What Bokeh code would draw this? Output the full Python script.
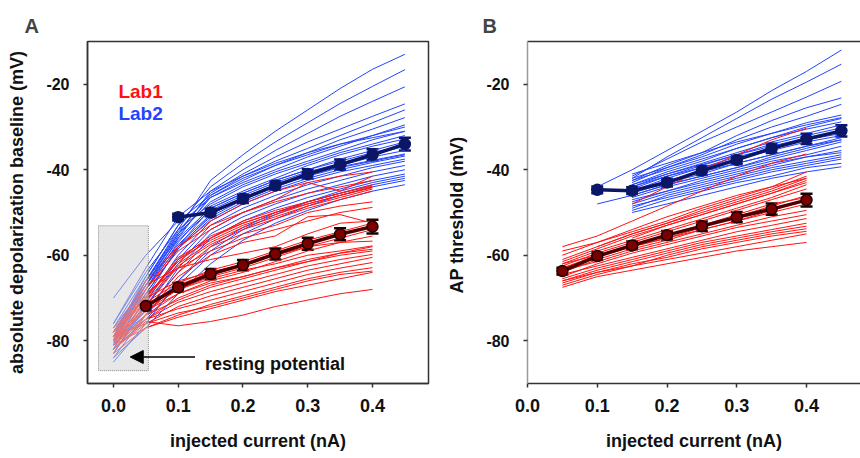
from bokeh.plotting import figure
from bokeh.layouts import row
from bokeh.models import (Range1d, FixedTicker, PrintfTickFormatter, LinearAxis, Whisker,
                          ColumnDataSource, Arrow, NormalHead, TeeHead)
from bokeh.core.properties import value
from bokeh.embed import file_html
from bokeh.resources import INLINE

# ---------------- data ----------------
currents_A = [0.0, 0.05, 0.1, 0.15, 0.2, 0.25, 0.3, 0.35, 0.4, 0.45]
currents_B = [0.05, 0.1, 0.15, 0.2, 0.25, 0.3, 0.35, 0.4, 0.45]

# Panel A, Lab1 single cells (0 .. 0.4 nA)
lab1_A_cells = [
    [-79, -70, -61, -56.5, -53, -50.5, -48, -46, -44],
    [-80, -71, -62, -57, -53.5, -51, -48.5, -46.5, -44.5],
    [-78, -70, -60.5, -56, -52.5, -50, -47.5, -45.5, -43.5],
    [-81, -72, -62.5, -57.5, -54, -51.5, -49, -47, -45],
    [-79.5, -69.5, -61.5, -56, -52, -49.5, -47.5, -45.5, -43.8],
    [-80.5, -70.5, -61, -55.5, -52.5, -50, -48, -46, -44.2],
    [-78, -66, -58, -52, -48, -45, -43, -41.5, -40.5],
    [-80, -68, -59, -54, -50, -47, -43, -45, -41.5],
    [-80, -73, -64, -58, -55, -53, -50, -48.5, -47.5],
    [-82, -74, -65, -60, -57, -55.5, -51, -50.5, -52.5],
    [-79, -72, -67, -64, -62, -59.5, -57, -55, -53],
    [-80, -73, -68, -65, -63, -60.5, -58, -56, -54],
    [-78, -71, -66.5, -63.5, -61.5, -59, -56.5, -54.5, -52.5],
    [-81, -74, -69, -66, -64, -61.5, -59, -57, -55.5],
    [-77, -70, -66, -64, -62.5, -60, -58, -57, -56.7],
    [-82, -75, -70, -67, -65, -63, -61, -59.5, -58],
    [-80, -72, -68, -65.5, -63.5, -62, -60, -59, -57.8],
    [-79, -67, -63, -61, -59.5, -58, -55, -52.5, -52],
    [-81, -75, -71, -68.5, -66.5, -64.5, -62.5, -61, -59.8],
    [-82, -76, -72, -69.5, -67.5, -65.5, -63.5, -62, -60.5],
    [-80, -75, -72.5, -70.5, -68.5, -66.5, -64.5, -63, -61.7],
    [-83, -77, -74, -71.5, -69.5, -67.5, -65.5, -64, -62.9],
    [-79, -76, -73.5, -72, -70, -68, -66, -64.5, -63.7],
    [-81, -77, -74.5, -72.5, -70.5, -68.5, -67, -65.5, -64],
    [-82, -75.5, -76.5, -75.5, -74, -72, -70.5, -69, -68],
    [-78, -68, -58, -53, -50, -47.5, -45.5, -44, -42.5],
    [-80, -69, -63, -59, -56, -54, -52, -50, -48.8],
    [-79, -73, -69, -66.5, -65, -63, -61.5, -59.5, -58.6],
    [-81, -74, -70.5, -67.5, -65.5, -63.5, -61.5, -60, -59],
]

# Panel A, Lab2 single cells (0 .. 0.45 nA)
lab2_A_cells = [
    [-80, -66, -54, -42.5, -36.5, -31, -26, -21, -16.5, -13],
    [-79, -65, -53, -44, -38.5, -33.5, -29, -24.5, -20.5, -16.6],
    [-81, -67, -55, -45, -40, -35.5, -31.5, -27.5, -24, -20.6],
    [-78, -66, -54.5, -45.5, -41, -37, -33.5, -30.5, -27.5, -24.6],
    [-82, -68, -56, -46, -41.5, -38, -35, -32, -29, -26],
    [-80, -67, -55.5, -46.5, -42.5, -39, -36, -33, -30.5, -27.8],
    [-77, -65, -53, -46.5, -43, -40, -37, -34.5, -32, -29.5],
    [-79, -66, -55, -47.5, -43.5, -40.5, -38, -35.5, -33, -31],
    [-76, -64, -54, -48, -44, -41, -38.5, -36, -34, -32],
    [-80, -68, -57, -48.5, -45, -42, -39, -36.5, -34.5, -32.8],
    [-82, -70, -58, -49, -45.5, -42.5, -40, -37.5, -35.5, -33.5],
    [-78, -67, -56.5, -49.5, -46, -43, -40.5, -38.5, -36.5, -34.5],
    [-81, -69, -58.5, -50.5, -46.5, -43.5, -41, -39, -37, -35.5],
    [-79, -68, -58, -51, -47, -44, -41.5, -39.5, -38, -36.5],
    [-80, -69, -58.5, -51.5, -47.5, -44.5, -42, -40, -38.3, -36.8],
    [-77, -67, -57.5, -50.5, -46.5, -43.7, -41.3, -39.3, -37.8, -36.3],
    [-83, -72, -61, -53, -49, -46, -43.5, -41.5, -39.5, -38],
    [-80, -72, -62, -54, -50, -47, -44.5, -42.5, -40.5, -39],
    [-84, -74, -63, -55, -51, -48, -45.5, -43.5, -41.5, -40],
    [-81, -73, -64, -56, -52, -49, -46.5, -44.5, -42.5, -41],
    [-85, -76, -66, -58, -53.5, -50, -47.5, -45.5, -43.5, -42],
    [-82, -75, -67, -60, -55, -51.5, -48.5, -46, -44, -42.5],
    [-84, -77, -69, -62, -56.5, -52.5, -49.5, -47, -45, -43.5],
    [-80, -74, -66, -59, -54, -50.5, -47.5, -45, -43, -41.5],
    [-70, -60, -52, -46, -42, -39, -36.5, -34, -32, -30],
    [-76, -63, -51, -45, -41.5, -38.5, -36, -34, -32.5, -31],
    [-78, -66, -56, -49, -45.5, -42.5, -40, -38, -36, -34.2],
    [-83, -71, -60, -52, -48, -45, -42.5, -40.5, -39, -37.5],
]

# Panel A means +- SEM
lab1_A_x = [0.05, 0.1, 0.15, 0.2, 0.25, 0.3, 0.35, 0.4]
lab1_A_mean = [-71.9, -67.5, -64.4, -62.3, -59.7, -57.3, -55.1, -53.3]
lab1_A_sem = [1.0, 1.0, 1.2, 1.2, 1.3, 1.4, 1.4, 1.6]
lab2_A_x = [0.1, 0.15, 0.2, 0.25, 0.3, 0.35, 0.4, 0.45]
lab2_A_mean = [-51.1, -50.0, -46.8, -43.7, -41.0, -38.8, -36.5, -34.0]
lab2_A_sem = [0.8, 0.9, 1.0, 1.0, 1.1, 1.2, 1.3, 1.5]

# Panel B, Lab1 single cells (0.05 .. 0.4 nA)
lab1_B_cells = [
    [None, None, -48, -44, -40, -36.5, -33, -30.3],
    [-58, -55.5, -52, -48.5, -45, -41.5, -38.5, -36.3],
    [-60, -57, -54.5, -52, -49, -46.5, -44, -40.5],
    [-61, -58, -55, -52.5, -49.5, -47, -44.5, -41.5],
    [-61.5, -58.5, -55.5, -53, -50.5, -48, -45.5, -42.5],
    [-62, -59, -56.5, -54, -51.5, -49, -46.5, -43.5],
    [-62.5, -59.5, -57, -54.5, -52, -49.5, -47, -44.5],
    [None, -58, -55, -52.5, -50, -47.5, -45, -42],
    [None, None, -56, -53, -50.5, -48, -45.5, -43],
    [-63, -60.5, -58, -56, -53.5, -51, -48.5, -46],
    [-64, -61, -58.5, -56.5, -54, -52, -49.5, -47.2],
    [-63.5, -61.5, -59, -57, -55, -53, -51, -49.5],
    [-65, -62, -59.5, -57.5, -55.5, -53.5, -52, -50.5],
    [-64.5, -62.5, -60.5, -58.5, -56.5, -54.5, -53, -51.4],
    [-65.5, -63, -61, -59, -57, -55.5, -54, -52.5],
    [-66, -63.5, -61.5, -59.5, -57.5, -56, -54.5, -53.2],
    [-66.5, -64, -62, -60.5, -58.5, -57, -55.5, -54.4],
    [-67, -64.5, -62.5, -61, -59.5, -58, -56.5, -55],
    [-67.5, -65, -63.5, -62, -60.5, -59, -58, -57],
    [-62, -60, -58, -56, -54, -52, -50, -48],
    [-59, -57, -54, -51, -48.5, -46, -44, -42],
    [-63, -60, -57.5, -55.5, -53, -50.5, -48, -46.5],
    [-66, -64, -62.5, -60, -58, -56.5, -55, -53.8],
]

# Panel B, Lab2 single cells (0.1 .. 0.45 nA)
lab2_B_cells = [
    [-44, -40, -35.5, -31, -26.5, -21.5, -17, -12],
    [None, -42, -37, -32.5, -28, -23.5, -19.5, -15.3],
    [None, -41.5, -37.5, -33.5, -30, -26.5, -23, -19.3],
    [None, -42.5, -39, -36, -32, -28.5, -25.5, -23.2],
    [None, -43, -39.5, -36.5, -33, -30, -27.5, -24.7],
    [None, -42, -39.5, -37, -34, -31.5, -29, -27.2],
    [None, -43.5, -40.5, -38, -35, -32.5, -30, -28],
    [None, -42.5, -40, -37.5, -35, -32.5, -30.5, -28.8],
    [None, -44, -41, -38.5, -36, -33.5, -31.5, -29.5],
    [None, -44.5, -41.5, -39, -36.5, -34, -32, -30.2],
    [None, -43.5, -41, -38.8, -36.5, -34.5, -32.5, -31],
    [None, -45, -42, -39.5, -37, -35, -33, -31.5],
    [None, -45.5, -43, -41, -38.5, -36.5, -34.5, -32.5],
    [None, -46, -43.5, -41.5, -39.5, -37.5, -35.5, -33.5],
    [None, -46.5, -44, -42, -40, -38, -36.5, -34.5],
    [None, -47, -45, -43, -41, -39, -37, -35.5],
    [None, -48, -45.5, -43.5, -41.5, -39.5, -38, -36.5],
    [None, -48.5, -46.5, -44.5, -42.5, -40.5, -39, -37.5],
    [None, -49.5, -47, -45, -43, -41.5, -39.5, -38.5],
    [None, -50, -48, -46, -44, -42, -40.5, -39.3],
    [-48, -46, -43.5, -41.5, -39.5, -37, -35, -33],
    [None, -44, -41.5, -39.5, -37.5, -35.5, -33.5, -32],
    [None, -45, -42.5, -40.5, -38.5, -36.5, -34.5, -33],
    [None, -47.5, -45, -42.5, -40.5, -38.5, -37, -36],
    [None, -49, -46, -44, -42, -40, -38.5, -37],
    [None, -41, -38.5, -36, -33.5, -31.5, -29.5, -27.8],
]

# Panel B means +- SEM
lab1_B_x = [0.05, 0.1, 0.15, 0.2, 0.25, 0.3, 0.35, 0.4]
lab1_B_mean = [-63.7, -60.2, -57.7, -55.3, -53.2, -51.1, -49.2, -47.1]
lab1_B_sem = [0.8, 0.9, 0.9, 1.0, 1.1, 1.2, 1.3, 1.5]
lab2_B_x = [0.1, 0.15, 0.2, 0.25, 0.3, 0.35, 0.4, 0.45]
lab2_B_mean = [-44.7, -44.9, -43.0, -40.2, -37.7, -35.0, -32.8, -30.9]
lab2_B_sem = [0.8, 0.8, 0.9, 1.0, 1.0, 1.1, 1.2, 1.3]

y_ticks = [-80, -60, -40, -20]
x_ticks = [0.0, 0.1, 0.2, 0.3, 0.4]

# ---------------- styling ----------------
RED = "#ff1111"
BLUE = "#2244ff"
DARKRED = "#4d0000"
MARKRED = "#7a0000"
NAVY = "#0b1766"
FONT = "Liberation Sans"
AXC = "#333333"


def cols(grid, rows):
    xs, ys = [], []
    for r in rows:
        pts = [(x, y) for x, y in zip(grid, r) if y is not None]
        xs.append([p[0] for p in pts])
        ys.append([p[1] for p in pts])
    return xs, ys


def make_fig(width, xr, ylabel, letter, letter_offset, border_right):
    p = figure(width=width, height=458, output_backend="svg", toolbar_location=None,
               x_range=Range1d(*xr), y_range=Range1d(-90, -10),
               min_border_left=87, min_border_right=border_right,
               min_border_top=41, min_border_bottom=75)
    p.xgrid.visible = False
    p.ygrid.visible = False
    p.background_fill_color = "white"
    p.border_fill_color = "white"
    p.title.text = letter
    p.title.text_font = FONT
    p.title.text_font_size = "20px"
    p.title.text_font_style = "bold"
    p.title.align = "left"
    p.title.offset = letter_offset
    p.title.standoff = 10
    for ax in (p.xaxis[0], p.yaxis[0]):
        ax.axis_line_color = AXC
        ax.axis_line_width = 1.5
        ax.major_tick_line_color = AXC
        ax.major_tick_line_width = 1.5
        ax.major_tick_out = 4
        ax.major_tick_in = 0
        ax.minor_tick_line_color = None
        ax.major_label_text_font = FONT
        ax.major_label_text_font_style = "bold"
        ax.major_label_text_color = "#111111"
        ax.axis_label_text_font = FONT
        ax.axis_label_text_font_style = "bold"
        ax.axis_label_text_font_size = "18px"
        ax.axis_label_text_color = "#111111"
    p.xaxis[0].ticker = FixedTicker(ticks=x_ticks)
    p.xaxis[0].formatter = PrintfTickFormatter(format="%.1f")
    p.xaxis[0].major_label_text_font_size = "18px"
    p.xaxis[0].major_label_standoff = 11
    p.xaxis[0].axis_label = "injected current (nA)"
    p.xaxis[0].axis_label_standoff = 16
    p.yaxis[0].ticker = FixedTicker(ticks=y_ticks)
    p.yaxis[0].formatter = PrintfTickFormatter(format="%d")
    p.yaxis[0].major_label_text_font_size = "16px"
    p.yaxis[0].major_label_standoff = 14
    p.yaxis[0].axis_label = ylabel
    p.yaxis[0].axis_label_standoff = 16
    return p


def add_mean(p, x, m, s, lc, fc, ec):
    src = ColumnDataSource(dict(x=x, m=m, lo=[a - b for a, b in zip(m, s)],
                                hi=[a + b for a, b in zip(m, s)]))
    p.line("x", "m", source=src, line_color=lc, line_width=3.5)
    w = Whisker(base="x", upper="hi", lower="lo", source=src, line_color=ec, line_width=2,
                upper_head=TeeHead(size=12, line_color=ec, line_width=2.5),
                lower_head=TeeHead(size=12, line_color=ec, line_width=2.5))
    p.add_layout(w)
    p.scatter("x", "m", source=src, size=11, fill_color=fc, line_color=ec, line_width=1.5)


# ---------------- panel A ----------------
pA = make_fig(440, (-0.04, 0.4865), "absolute depolarization baseline (mV)", "A", -63, 12)
pA.outline_line_color = AXC
pA.outline_line_width = 1.5

xs, ys = cols(currents_A, lab2_A_cells)
pA.multi_line(xs, ys, line_color=BLUE, line_width=1)
xs, ys = cols(currents_A, lab1_A_cells)
pA.multi_line(xs, ys, line_color=RED, line_width=1)

# shaded resting-potential box
pA.quad(left=[-0.023], right=[0.054], bottom=[-87.0], top=[-53.1],
        fill_color="#cfcfcf", fill_alpha=0.5, line_color="#8a8a8a", line_dash="1 1",
        line_width=1)

add_mean(pA, lab1_A_x, lab1_A_mean, lab1_A_sem, DARKRED, MARKRED, "#1a0000")
add_mean(pA, lab2_A_x, lab2_A_mean, lab2_A_sem, NAVY, NAVY, NAVY)

pA.text(x=[0.0077], y=[-21.8], text=["Lab1"], text_color=RED, text_font=value(FONT),
        text_font_style="bold", text_font_size="19px", text_baseline="alphabetic")
pA.text(x=[0.0077], y=[-26.9], text=["Lab2"], text_color=BLUE, text_font=value(FONT),
        text_font_style="bold", text_font_size="19px", text_baseline="alphabetic")
pA.text(x=[0.1415], y=[-85.5], text=["resting potential"], text_color="#111111",
        text_font=value(FONT), text_font_style="bold", text_font_size="18px",
        text_baseline="alphabetic")
pA.add_layout(Arrow(end=NormalHead(size=13, fill_color="black", line_color="black"),
                    x_start=0.126, y_start=-83.8, x_end=0.026, y_end=-83.8,
                    line_width=1.5, line_color="black"))

# ---------------- panel B ----------------
pB = make_fig(420, (0.0, 0.4774), "AP  threshold (mV)", "B", -45, 0)
pB.outline_line_color = None
pB.yaxis[0].axis_line_color = "#9a9a9a"
top_ax = LinearAxis(ticker=FixedTicker(ticks=[]), axis_line_color=AXC, axis_line_width=1.5,
                    major_tick_line_color=None, minor_tick_line_color=None,
                    major_label_text_color=None, major_label_standoff=0)
pB.add_layout(top_ax, "above")

xs, ys = cols(currents_B[1:], lab2_B_cells)
pB.multi_line(xs, ys, line_color=BLUE, line_width=1)
xs, ys = cols(currents_B[:-1], lab1_B_cells)
pB.multi_line(xs, ys, line_color=RED, line_width=1)

add_mean(pB, lab2_B_x, lab2_B_mean, lab2_B_sem, NAVY, NAVY, NAVY)
add_mean(pB, lab1_B_x, lab1_B_mean, lab1_B_sem, DARKRED, MARKRED, "#1a0000")

layout = row(pA, pB)
open("out.html", "w").write(file_html(layout, INLINE))
